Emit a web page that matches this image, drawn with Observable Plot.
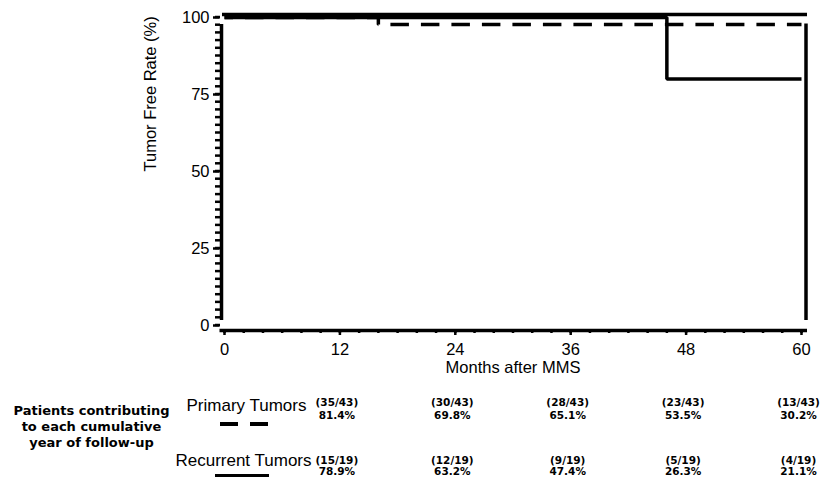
<!DOCTYPE html>
<html>
<head>
<meta charset="utf-8">
<script src="https://cdn.jsdelivr.net/npm/d3@7"></script>
<script src="https://cdn.jsdelivr.net/npm/@observablehq/plot@0.6"></script>
<style>
  html, body { margin: 0; padding: 0; background: #fff; }
  #chart svg { display: block; }
</style>
</head>
<body>
<div id="chart"></div>
<script>
// ---- data ----
const months = [12, 24, 36, 48, 60];
const primaryCounts = ["(35/43)", "(30/43)", "(28/43)", "(23/43)", "(13/43)"];
const primaryPct = [81.4, 69.8, 65.1, 53.5, 30.2];
const recurrentCounts = ["(15/19)", "(12/19)", "(9/19)", "(5/19)", "(4/19)"];
const recurrentPct = [78.9, 63.2, 47.4, 26.3, 21.1];

// Kaplan-Meier steps
const primaryTime = [0, 16, 60];
const primaryRate = [100, 97.7, 97.7];
const recurrentTime = [0, 46, 60];
const recurrentRate = [100, 80, 80];

const xMajor = [0, 12, 24, 36, 48, 60];
const xMinor = d3.range(0, 61, 2);
const yMajor = [0, 25, 50, 75, 100];
const yMinor = d3.range(0, 100.01, 2.5);

const primary = primaryTime.map((t, i) => ({t, r: primaryRate[i]}));
const recurrent = recurrentTime.map((t, i) => ({t, r: recurrentRate[i]}));

const sans = "'Liberation Sans', Arial, sans-serif";
const bold = "'DejaVu Sans', Verdana, sans-serif";
const blank = () => "";

const chart = Plot.plot({
  width: 822,
  height: 477,
  marginLeft: 224,
  marginRight: 21,
  marginTop: 17,
  marginBottom: 152,
  style: {fontFamily: sans, color: "#000", background: "#fff"},
  x: {domain: [0, 60], axis: null},
  y: {domain: [0, 100], axis: null},
  marks: [
    // y axis line
    Plot.ruleX([0], {y1: 0, y2: 100, dx: -3, insetTop: -5, insetBottom: -7, strokeWidth: 3.5, stroke: "#000"}),
    // y axis major ticks + labels
    Plot.axisY({ticks: yMajor, anchor: "left", tickSize: 6.5, strokeWidth: 2.5, dx: -4.5, tickPadding: 4, fontSize: 16.5, label: null, fontFamily: sans}),
    // x axis
    Plot.ruleY([0], {x1: 0, x2: 60, dy: 5, insetLeft: -4.5, insetRight: -6, strokeWidth: 3.5}),
    Plot.axisX({ticks: xMinor, anchor: "bottom", tickSize: 3, strokeWidth: 2.5, dy: 5, tickFormat: blank, label: null}),
    Plot.axisX({ticks: xMajor, anchor: "bottom", tickSize: 5, strokeWidth: 2.5, dy: 5, tickPadding: 8, fontSize: 16.5, label: null, fontFamily: sans}),
    // frame top & right
    Plot.ruleY([100], {x1: 0, x2: 60, dy: -3, insetLeft: -2, insetRight: -6, strokeWidth: 3.5}),
    Plot.ruleX([60], {y1: 0, y2: 100, dx: 4.5, insetTop: -5, insetBottom: -6.5, strokeWidth: 3.5}),
    // curves
    Plot.line(recurrent, {x: "t", y: "r", curve: "step-after", stroke: "#000", strokeWidth: 3.5, strokeLinecap: "butt", strokeLinejoin: "miter"}),
    Plot.line(primary, {x: "t", y: "r", curve: "step-after", stroke: "#000", strokeWidth: 3.5, strokeLinecap: "butt", strokeLinejoin: "miter", strokeDasharray: "18.5,12", strokeDashoffset: 10}),
    // axis titles
    Plot.text(["Tumor Free Rate (%)"], {frameAnchor: "left", rotate: -90, dx: -74, fontSize: 16.5, fontFamily: sans}),
    Plot.text(["Months after MMS"], {frameAnchor: "bottom", dy: 47, fontSize: 16.5, fontFamily: sans}),
    // table
    Plot.text(["Patients contributing\nto each cumulative\nyear of follow-up"], {frameAnchor: "bottom-left", dx: -133, dy: 121, textAnchor: "middle", lineHeight: 1.23, fontSize: 13, fontWeight: "bold", fontFamily: bold}),
    Plot.text(["Primary Tumors"], {frameAnchor: "bottom-left", dx: 82, dy: 85, textAnchor: "end", fontSize: 17, fontFamily: sans}),
    Plot.text(["Recurrent Tumors"], {frameAnchor: "bottom-left", dx: 87, dy: 140, textAnchor: "end", fontSize: 17, fontFamily: sans}),
    Plot.text(months, {x: d => d, text: (d, i) => primaryCounts[i], frameAnchor: "bottom", dx: -3, dy: 80.5, fontSize: 10.5, fontWeight: "bold", fontFamily: bold}),
    Plot.text(months, {x: d => d, text: (d, i) => primaryPct[i].toFixed(1) + "%", frameAnchor: "bottom", dx: -3, dy: 93.5, fontSize: 10.5, fontWeight: "bold", fontFamily: bold}),
    Plot.text(months, {x: d => d, text: (d, i) => recurrentCounts[i], frameAnchor: "bottom", dx: -3, dy: 138, fontSize: 10.5, fontWeight: "bold", fontFamily: bold}),
    Plot.text(months, {x: d => d, text: (d, i) => recurrentPct[i].toFixed(1) + "%", frameAnchor: "bottom", dx: -3, dy: 149, fontSize: 10.5, fontWeight: "bold", fontFamily: bold})
  ]
});

const svg = d3.select(chart);
// y-axis minor ticks, positioned with the chart's own y scale
const yScale = chart.scale("y");
const xScale = chart.scale("x");
const x0 = xScale.apply(0);
svg.append("g").attr("stroke", "#000").attr("stroke-width", 2.5)
  .selectAll("line").data(yMinor).join("line")
  .attr("x1", x0 - 9).attr("x2", x0 - 4)
  .attr("y1", d => yScale.apply(d)).attr("y2", d => yScale.apply(d));

// legend swatches
svg.append("line").attr("x1", 220).attr("x2", 268).attr("y1", 424).attr("y2", 424)
  .attr("stroke", "#000").attr("stroke-width", 4).attr("stroke-dasharray", "18,12");
svg.append("line").attr("x1", 215).attr("x2", 269).attr("y1", 475.5).attr("y2", 475.5)
  .attr("stroke", "#000").attr("stroke-width", 3);

document.getElementById("chart").appendChild(chart);
</script>
</body>
</html>
